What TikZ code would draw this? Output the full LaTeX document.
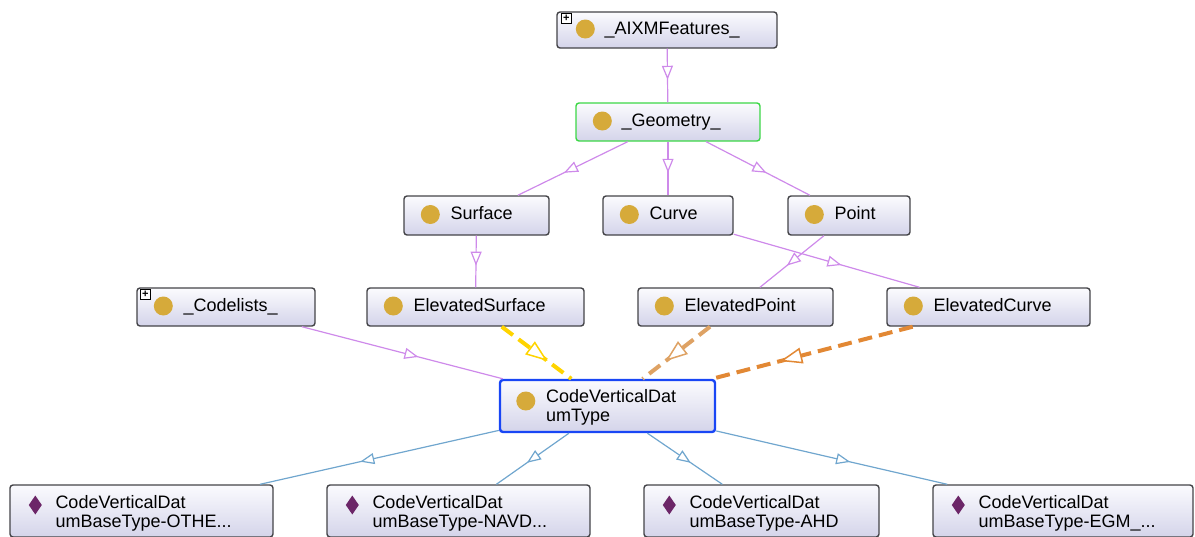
\documentclass[tikz,border=0pt]{standalone}
\usepackage{fontspec}
\setmainfont{Liberation Sans}
\usetikzlibrary{arrows.meta,decorations.markings}
\definecolor{boxline}{RGB}{68,68,72}
\definecolor{boxtop}{RGB}{251,251,254}
\definecolor{boxbot}{RGB}{212,212,234}
\definecolor{gold}{RGB}{214,170,58}
\definecolor{plum}{RGB}{108,38,104}
\definecolor{lilac}{RGB}{206,138,234}
\definecolor{steel}{RGB}{112,166,206}
\definecolor{geogreen}{RGB}{60,215,70}
\definecolor{selblue}{RGB}{25,70,245}
\definecolor{dashyellow}{RGB}{255,212,0}
\definecolor{dashtan}{RGB}{222,162,100}
\definecolor{dashorange}{RGB}{226,136,52}

\begin{document}
\begin{tikzpicture}[
  x=1pt, y=-1pt,
  font=\fontsize{18}{19}\selectfont,
  cls/.style={draw=boxline, line width=1.4pt, rounded corners=3pt, top color=boxtop, bottom color=boxbot, inner sep=0pt, minimum height=38pt},
  dot/.style={circle, fill=gold, minimum size=19pt, inner sep=0pt},
  ind/.style={fill=plum},
  txt/.style={anchor=west, inner sep=0pt, text height=13pt, text depth=0pt, yshift=2.5pt},
  txttwo/.style={anchor=north west, inner sep=0pt, align=left},
  plus/.style={draw=black, fill=white, line width=0.8pt, minimum size=10pt, inner sep=0pt, font=\fontsize{11}{11}\selectfont\bfseries},
  isa/.style={draw=#1, line width=1.2pt, postaction={decorate}, decoration={markings, mark=at position 0.58 with {\arrow{Triangle[open, fill=white, length=14pt, width=11pt, line width=1.2pt]}}}},
  dep/.style={draw=#1, line width=4pt, dash pattern=on 14pt off 7pt, postaction={decorate}, decoration={markings, mark=at position 0.66 with {\arrow{Triangle[open, fill=white, length=22pt, width=16pt, line width=1.5pt]}}}}
]
\useasboundingbox (0,0) rectangle (1195,536);

\node [cls, minimum width=220pt, minimum height=36pt] (feat) at (667,30) {};
\node [cls, draw=geogreen, minimum width=184pt] (geom) at (668,122) {};
\node [cls, minimum width=145pt, minimum height=39pt] (surf) at (476.5,215.5) {};
\node [cls, minimum width=130pt, minimum height=39pt] (curve) at (668,215.5) {};
\node [cls, minimum width=122pt, minimum height=39pt] (point) at (849,215.5) {};
\node [cls, minimum width=178pt] (codel) at (226,307) {};
\node [cls, minimum width=217pt] (esurf) at (475.5,307) {};
\node [cls, minimum width=195pt] (epoint) at (735.5,307) {};
\node [cls, minimum width=203pt] (ecurve) at (988.5,307) {};
\node [cls, draw=selblue, line width=2.4pt, minimum width=215pt, minimum height=52pt] (cvdt) at (607.5,406) {};
\node [cls, minimum width=263pt, minimum height=52pt] (oth) at (141.5,511) {};
\node [cls, minimum width=263pt, minimum height=52pt] (navd) at (458.5,511) {};
\node [cls, minimum width=235pt, minimum height=52pt] (ahd) at (761.5,511) {};
\node [cls, minimum width=260pt, minimum height=52pt] (egm) at (1063,511) {};

\node [dot] at ([xshift=29pt,yshift=1pt]feat.west) {};
\node [txt] at ([xshift=48pt]feat.west) {\_AIXMFeatures\_};
\node [plus] at ([xshift=10pt,yshift=-7pt]feat.north west) {+};
\node [dot] at ([xshift=27pt,yshift=1pt]geom.west) {};
\node [txt] at ([xshift=46pt]geom.west) {\_Geometry\_};
\node [dot] at ([xshift=27pt,yshift=1pt]surf.west) {};
\node [txt] at ([xshift=47pt]surf.west) {Surface};
\node [dot] at ([xshift=27pt,yshift=1pt]curve.west) {};
\node [txt] at ([xshift=47pt]curve.west) {Curve};
\node [dot] at ([xshift=27pt,yshift=1pt]point.west) {};
\node [txt] at ([xshift=47pt]point.west) {Point};
\node [dot] at ([xshift=27pt,yshift=1pt]codel.west) {};
\node [txt] at ([xshift=47pt]codel.west) {\_Codelists\_};
\node [plus] at ([xshift=9pt,yshift=-7pt]codel.north west) {+};
\node [dot] at ([xshift=27pt,yshift=1pt]esurf.west) {};
\node [txt] at ([xshift=47pt]esurf.west) {ElevatedSurface};
\node [dot] at ([xshift=27pt,yshift=1pt]epoint.west) {};
\node [txt] at ([xshift=47pt]epoint.west) {ElevatedPoint};
\node [dot] at ([xshift=27pt,yshift=1pt]ecurve.west) {};
\node [txt] at ([xshift=47pt]ecurve.west) {ElevatedCurve};
\node [dot] at ([xshift=27pt,yshift=5pt]cvdt.west) {};
\node [txttwo] at ([xshift=47pt,yshift=-10pt]cvdt.north west) {CodeVerticalDat\\umType};
\fill [ind] ([xshift=26pt,yshift=6pt]oth.west) +(0,-9.5) -- +(6.5,0) -- +(0,9.5) -- +(-6.5,0) -- cycle;
\node [txttwo] at ([xshift=46pt,yshift=-11pt]oth.north west) {CodeVerticalDat\\umBaseType-OTHE...};
\fill [ind] ([xshift=26pt,yshift=6pt]navd.west) +(0,-9.5) -- +(6.5,0) -- +(0,9.5) -- +(-6.5,0) -- cycle;
\node [txttwo] at ([xshift=46pt,yshift=-11pt]navd.north west) {CodeVerticalDat\\umBaseType-NAVD...};
\fill [ind] ([xshift=26pt,yshift=6pt]ahd.west) +(0,-9.5) -- +(6.5,0) -- +(0,9.5) -- +(-6.5,0) -- cycle;
\node [txttwo] at ([xshift=46pt,yshift=-11pt]ahd.north west) {CodeVerticalDat\\umBaseType-AHD};
\fill [ind] ([xshift=26pt,yshift=6pt]egm.west) +(0,-9.5) -- +(6.5,0) -- +(0,9.5) -- +(-6.5,0) -- cycle;
\node [txttwo] at ([xshift=46pt,yshift=-11pt]egm.north west) {CodeVerticalDat\\umBaseType-EGM\_...};

\draw [isa=lilac] (feat) -- (geom);
\draw [isa=lilac] (geom) -- (surf);
\draw [isa=lilac] (geom) -- (curve);
\draw [isa=lilac] (geom) -- (point);
\draw [isa=lilac] (surf) -- (esurf);
\draw [isa=lilac] (curve) -- (ecurve);
\draw [isa=lilac] (point) -- (epoint);
\draw [isa=lilac] (codel) -- (cvdt);
\draw [dep=dashyellow] (esurf) -- (cvdt);
\draw [dep=dashtan] (epoint) -- (cvdt);
\draw [dep=dashorange] (ecurve) -- (cvdt);
\draw [isa=steel] (cvdt) -- (oth);
\draw [isa=steel] (cvdt) -- (navd);
\draw [isa=steel] (cvdt) -- (ahd);
\draw [isa=steel] (cvdt) -- (egm);
\end{tikzpicture}
\end{document}
